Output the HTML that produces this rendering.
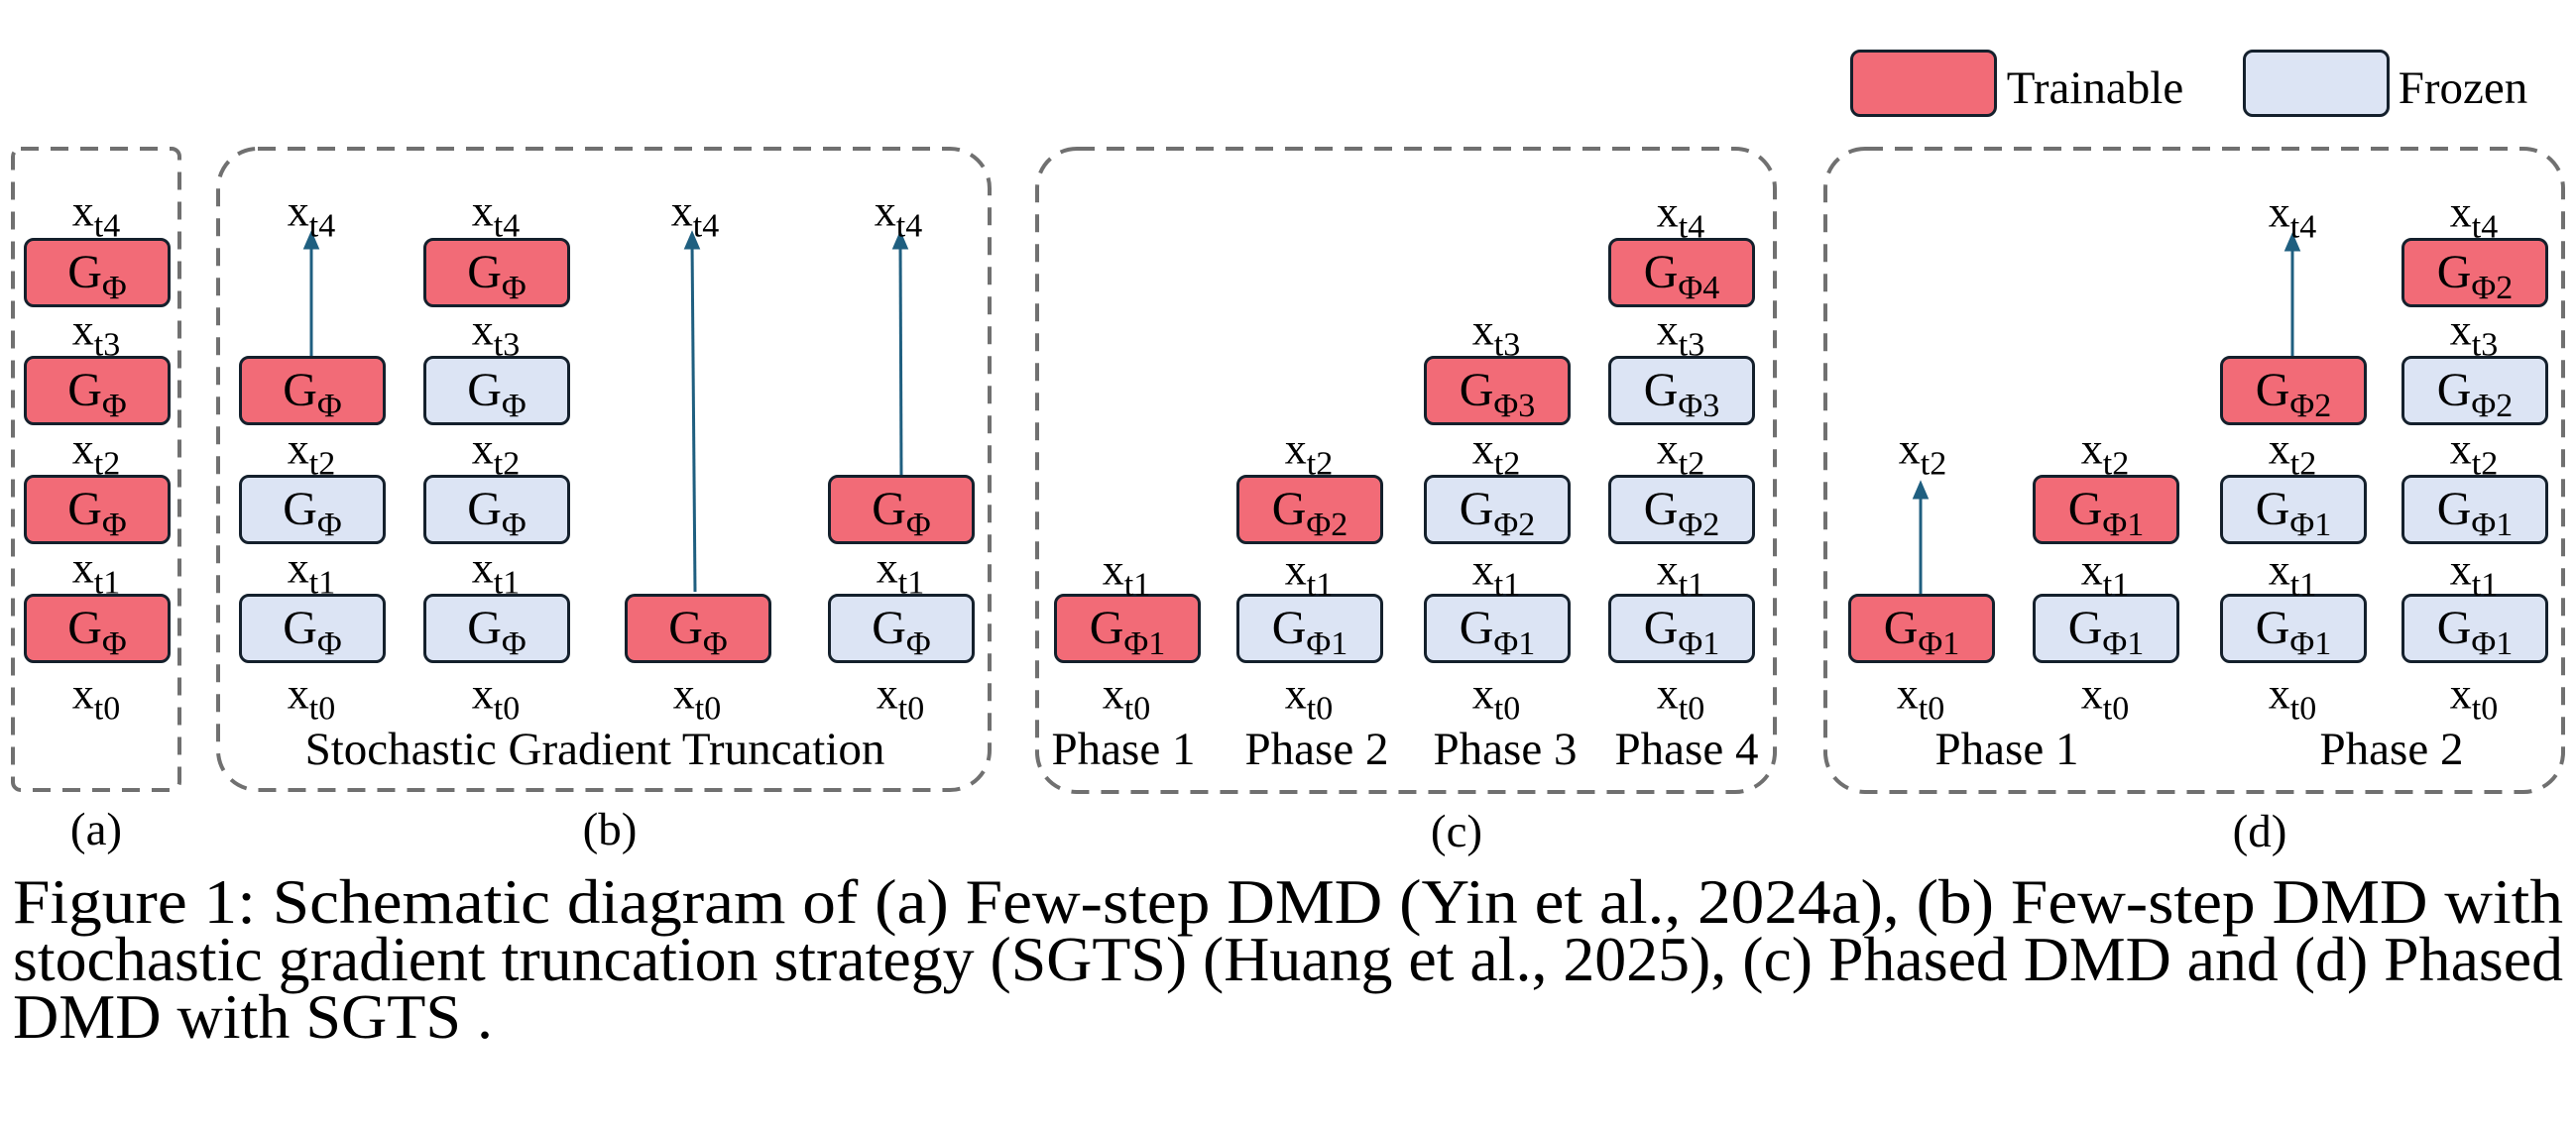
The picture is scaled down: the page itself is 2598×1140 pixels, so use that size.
<!DOCTYPE html>
<html><head><meta charset="utf-8"><style>
body{margin:0;width:2598px;height:1140px;background:#fff;position:relative;overflow:hidden;font-family:"Liberation Serif",serif;color:#000}
.b{position:absolute;width:142px;height:64px;border:3px solid #14202c;border-radius:10px;box-sizing:content-box;text-align:center;line-height:64px;font-size:48px}
.r{background:#f26b77}.f{background:#dce4f4}
.b sub{font-size:34px;vertical-align:-11px;line-height:0}
.l{position:absolute;transform:translate(-50%,-50%);font-size:44px;white-space:nowrap}
.l sub{font-size:34px;vertical-align:-11px;line-height:0}
.t{position:absolute;transform:translate(-50%,-50%);font-size:47px;white-space:nowrap}
svg{position:absolute;left:0;top:0}
</style></head><body>
<svg width="2598" height="1140">
<g fill="none" stroke="#707070" stroke-width="4" stroke-dasharray="18 12">
<rect x="13" y="150" width="168" height="647" rx="8"/>
<rect x="220" y="150" width="778" height="647" rx="40"/>
<rect x="1046" y="150" width="744" height="649" rx="40"/>
<rect x="1841" y="150" width="744" height="649" rx="40"/>
</g>
<g stroke="#1f5f80" stroke-width="3">
<line x1="314" y1="359" x2="314" y2="244"/><path d="M308,250 L314,236 L320,250 Z" fill="#1f5f80"/>
<line x1="701" y1="597" x2="698" y2="244"/><path d="M692,250 L698,236 L704,250 Z" fill="#1f5f80"/>
<line x1="909" y1="479" x2="908" y2="244"/><path d="M902,250 L908,236 L914,250 Z" fill="#1f5f80"/>
<line x1="1937" y1="599" x2="1937" y2="496"/><path d="M1931,502 L1937,488 L1943,502 Z" fill="#1f5f80"/>
<line x1="2312" y1="359" x2="2312" y2="246"/><path d="M2306,252 L2312,238 L2318,252 Z" fill="#1f5f80"/>
</g>
<g font-family="Liberation Serif, serif" font-size="64">
<text x="13" y="931" textLength="2572" lengthAdjust="spacingAndGlyphs">Figure 1: Schematic diagram of (a) Few-step DMD (Yin et al., 2024a), (b) Few-step DMD with</text>
<text x="13" y="989" textLength="2572" lengthAdjust="spacingAndGlyphs">stochastic gradient truncation strategy (SGTS) (Huang et al., 2025), (c) Phased DMD and (d) Phased</text>
<text x="13" y="1047" textLength="484" lengthAdjust="spacingAndGlyphs">DMD with SGTS .</text>
</g>
</svg>

<!-- legend -->
<div class="b r" style="left:1866px;top:50px;height:62px"></div>
<div class="t" style="left:2113px;top:89px">Trainable</div>
<div class="b f" style="left:2262px;top:50px;height:62px"></div>
<div class="t" style="left:2484px;top:89px">Frozen</div>

<!-- (a) -->
<div class="b r" style="left:24px;top:240px">G<sub>Φ</sub></div>
<div class="b r" style="left:24px;top:359px">G<sub>Φ</sub></div>
<div class="b r" style="left:24px;top:479px">G<sub>Φ</sub></div>
<div class="b r" style="left:24px;top:599px">G<sub>Φ</sub></div>
<div class="l" style="left:97px;top:213px">x<sub>t4</sub></div>
<div class="l" style="left:97px;top:333px">x<sub>t3</sub></div>
<div class="l" style="left:97px;top:453px">x<sub>t2</sub></div>
<div class="l" style="left:97px;top:573px">x<sub>t1</sub></div>
<div class="l" style="left:97px;top:700px">x<sub>t0</sub></div>
<div class="t" style="left:97px;top:837px">(a)</div>

<!-- (b) -->
<div class="b r" style="left:241px;top:359px">G<sub>Φ</sub></div>
<div class="b f" style="left:241px;top:479px">G<sub>Φ</sub></div>
<div class="b f" style="left:241px;top:599px">G<sub>Φ</sub></div>
<div class="l" style="left:314px;top:213px">x<sub>t4</sub></div>
<div class="l" style="left:314px;top:453px">x<sub>t2</sub></div>
<div class="l" style="left:314px;top:573px">x<sub>t1</sub></div>
<div class="l" style="left:314px;top:700px">x<sub>t0</sub></div>

<div class="b r" style="left:427px;top:240px">G<sub>Φ</sub></div>
<div class="b f" style="left:427px;top:359px">G<sub>Φ</sub></div>
<div class="b f" style="left:427px;top:479px">G<sub>Φ</sub></div>
<div class="b f" style="left:427px;top:599px">G<sub>Φ</sub></div>
<div class="l" style="left:500px;top:213px">x<sub>t4</sub></div>
<div class="l" style="left:500px;top:333px">x<sub>t3</sub></div>
<div class="l" style="left:500px;top:453px">x<sub>t2</sub></div>
<div class="l" style="left:500px;top:573px">x<sub>t1</sub></div>
<div class="l" style="left:500px;top:700px">x<sub>t0</sub></div>

<div class="b r" style="left:630px;top:599px">G<sub>Φ</sub></div>
<div class="l" style="left:701px;top:213px">x<sub>t4</sub></div>
<div class="l" style="left:703px;top:700px">x<sub>t0</sub></div>

<div class="b r" style="left:835px;top:479px">G<sub>Φ</sub></div>
<div class="b f" style="left:835px;top:599px">G<sub>Φ</sub></div>
<div class="l" style="left:906px;top:213px">x<sub>t4</sub></div>
<div class="l" style="left:908px;top:573px">x<sub>t1</sub></div>
<div class="l" style="left:908px;top:700px">x<sub>t0</sub></div>
<div class="t" style="left:600px;top:756px">Stochastic Gradient Truncation</div>
<div class="t" style="left:615px;top:837px">(b)</div>

<!-- (c) -->
<div class="b r" style="left:1063px;top:599px">G<sub>Φ1</sub></div>
<div class="l" style="left:1136px;top:575px">x<sub>t1</sub></div>
<div class="l" style="left:1136px;top:700px">x<sub>t0</sub></div>

<div class="b r" style="left:1247px;top:479px">G<sub>Φ2</sub></div>
<div class="b f" style="left:1247px;top:599px">G<sub>Φ1</sub></div>
<div class="l" style="left:1320px;top:453px">x<sub>t2</sub></div>
<div class="l" style="left:1320px;top:575px">x<sub>t1</sub></div>
<div class="l" style="left:1320px;top:700px">x<sub>t0</sub></div>

<div class="b r" style="left:1436px;top:359px">G<sub>Φ3</sub></div>
<div class="b f" style="left:1436px;top:479px">G<sub>Φ2</sub></div>
<div class="b f" style="left:1436px;top:599px">G<sub>Φ1</sub></div>
<div class="l" style="left:1509px;top:333px">x<sub>t3</sub></div>
<div class="l" style="left:1509px;top:453px">x<sub>t2</sub></div>
<div class="l" style="left:1509px;top:575px">x<sub>t1</sub></div>
<div class="l" style="left:1509px;top:700px">x<sub>t0</sub></div>

<div class="b r" style="left:1622px;top:240px">G<sub>Φ4</sub></div>
<div class="b f" style="left:1622px;top:359px">G<sub>Φ3</sub></div>
<div class="b f" style="left:1622px;top:479px">G<sub>Φ2</sub></div>
<div class="b f" style="left:1622px;top:599px">G<sub>Φ1</sub></div>
<div class="l" style="left:1695px;top:214px">x<sub>t4</sub></div>
<div class="l" style="left:1695px;top:333px">x<sub>t3</sub></div>
<div class="l" style="left:1695px;top:453px">x<sub>t2</sub></div>
<div class="l" style="left:1695px;top:575px">x<sub>t1</sub></div>
<div class="l" style="left:1695px;top:700px">x<sub>t0</sub></div>
<div class="t" style="left:1133px;top:756px">Phase 1</div>
<div class="t" style="left:1328px;top:756px">Phase 2</div>
<div class="t" style="left:1518px;top:756px">Phase 3</div>
<div class="t" style="left:1701px;top:756px">Phase 4</div>
<div class="t" style="left:1469px;top:839px">(c)</div>

<!-- (d) -->
<div class="b r" style="left:1864px;top:599px">G<sub>Φ1</sub></div>
<div class="l" style="left:1939px;top:453px">x<sub>t2</sub></div>
<div class="l" style="left:1937px;top:700px">x<sub>t0</sub></div>

<div class="b r" style="left:2050px;top:479px">G<sub>Φ1</sub></div>
<div class="b f" style="left:2050px;top:599px">G<sub>Φ1</sub></div>
<div class="l" style="left:2123px;top:453px">x<sub>t2</sub></div>
<div class="l" style="left:2123px;top:575px">x<sub>t1</sub></div>
<div class="l" style="left:2123px;top:700px">x<sub>t0</sub></div>

<div class="b r" style="left:2239px;top:359px">G<sub>Φ2</sub></div>
<div class="b f" style="left:2239px;top:479px">G<sub>Φ1</sub></div>
<div class="b f" style="left:2239px;top:599px">G<sub>Φ1</sub></div>
<div class="l" style="left:2312px;top:214px">x<sub>t4</sub></div>
<div class="l" style="left:2312px;top:453px">x<sub>t2</sub></div>
<div class="l" style="left:2312px;top:575px">x<sub>t1</sub></div>
<div class="l" style="left:2312px;top:700px">x<sub>t0</sub></div>

<div class="b r" style="left:2422px;top:240px">G<sub>Φ2</sub></div>
<div class="b f" style="left:2422px;top:359px">G<sub>Φ2</sub></div>
<div class="b f" style="left:2422px;top:479px">G<sub>Φ1</sub></div>
<div class="b f" style="left:2422px;top:599px">G<sub>Φ1</sub></div>
<div class="l" style="left:2495px;top:214px">x<sub>t4</sub></div>
<div class="l" style="left:2495px;top:333px">x<sub>t3</sub></div>
<div class="l" style="left:2495px;top:453px">x<sub>t2</sub></div>
<div class="l" style="left:2495px;top:575px">x<sub>t1</sub></div>
<div class="l" style="left:2495px;top:700px">x<sub>t0</sub></div>
<div class="t" style="left:2024px;top:756px">Phase 1</div>
<div class="t" style="left:2412px;top:756px">Phase 2</div>
<div class="t" style="left:2279px;top:839px">(d)</div>
</body></html>
